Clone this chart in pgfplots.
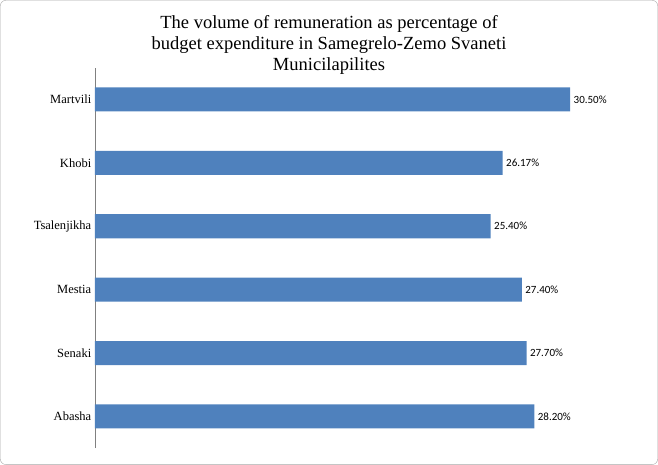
\documentclass[border=0pt]{standalone}
\usepackage{pgfplots}
\pgfplotsset{compat=1.18}
\usepackage{fontspec}
\setmainfont{Liberation Serif}
\newfontfamily\calib{Carlito}
\definecolor{barblue}{HTML}{4F81BD}
\begin{document}
\begin{tikzpicture}[x=1pt,y=1pt]
\draw[gray!70,rounded corners=6pt] (0.5,0.5) rectangle (657.5,464.5);
\node[align=center,font=\fontsize{18.5}{21}\selectfont] at (329,420) {The volume of remuneration as percentage of\\budget expenditure in Samegrelo-Zemo Svaneti\\Municilapilites};
\begin{axis}[at={(95pt,17pt)},anchor=south west,
 width=545pt,height=380pt,scale only axis,
 xbar, bar width=24pt,
 xmin=0,xmax=35,ymin=-0.5,ymax=5.5,
 axis x line=none, axis y line*=left,
 y axis line style={gray},
 ytick={0,...,5},
 yticklabels={Abasha,Senaki,Mestia,Tsalenjikha,Khobi,Martvili},
 major tick length=0pt,
 yticklabel style={font=\fontsize{12.5}{14}\selectfont},
 nodes near coords={\pgfmathprintnumber[fixed,fixed zerofill,precision=2]{\pgfplotspointmeta}\%},
 nodes near coords style={font=\calib\fontsize{11}{13}\selectfont,anchor=west,/pgf/number format/assume math mode=true},
 clip=false]
\addplot[fill=barblue,draw=none] coordinates {(28.20,0) (27.70,1) (27.40,2) (25.40,3) (26.17,4) (30.50,5)};
\end{axis}
\end{tikzpicture}
\end{document}
